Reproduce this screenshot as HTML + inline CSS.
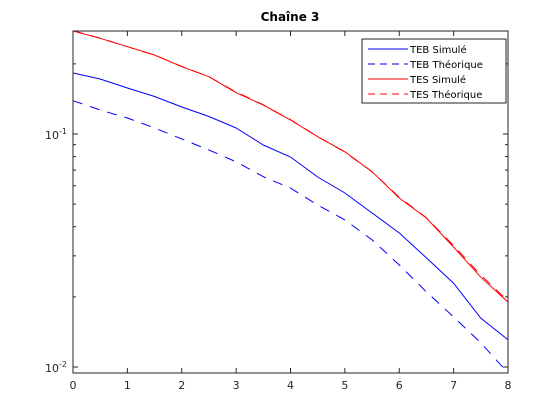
<!DOCTYPE html>
<html><head><meta charset="utf-8"><style>
body{margin:0;background:#fff}
svg{display:block;font-family:"DejaVu Sans","Liberation Sans",sans-serif}
</style></head><body>
<svg id="chart" width="560" height="420" viewBox="0 0 560 420" xmlns="http://www.w3.org/2000/svg">
<rect x="0" y="0" width="560" height="420" fill="#fff"/>
<text x="290" y="21" text-anchor="middle" font-size="12" font-weight="bold" fill="#000">Chaîne 3</text>
<g id="plot"></g>
</svg>
<script>
const xs = [0,0.5,1,1.5,2,2.5,3,3.5,4,4.5,5,5.5,6,6.5,7,7.5,8];
const tebSim = [0.1828,0.1722,0.1575,0.1449,0.1306,0.1189,0.1061,0.0897,0.0797,0.0654,0.0558,0.0458,0.0376,0.0294,0.0229,0.0162,0.0131];
const tebTheo = [0.139,0.1268,0.1171,0.1061,0.0952,0.0854,0.0760,0.0656,0.0586,0.0496,0.0428,0.0351,0.0274,0.0210,0.0164,0.0127,0.00942];
const tesSim = [0.2767,0.2575,0.2370,0.2183,0.1945,0.1762,0.1504,0.1332,0.1148,0.0974,0.0839,0.0689,0.0531,0.0436,0.0327,0.0243,0.0190];
const tesTheo = [0.2775,0.2578,0.2370,0.2180,0.1950,0.1760,0.1515,0.1335,0.1152,0.0975,0.0836,0.0688,0.0535,0.0437,0.0332,0.0248,0.0192];
const xTicks = [0,1,2,3,4,5,6,7,8];
const yMajor = [0.1,0.01];
const yMajorLabels = ["-1","-2"];
const yMinor = [0.02,0.03,0.04,0.05,0.06,0.07,0.08,0.09,0.2];
const legendLabels = ["TEB Simulé","TEB Théorique","TES Simulé","TES Théorique"];

const L=73,R=508,T=31,B=373;
const xMin=0,xMax=8;
const Y1=134,Y2=367;
function xScale(v){return L+(v-xMin)/(xMax-xMin)*(R-L);}
function yScale(v){return Y1-(Math.log10(v)+1)*(Y2-Y1);}
const NS="http://www.w3.org/2000/svg";
const g=document.getElementById('plot');
function mk(tag,attrs,parent){const e=document.createElementNS(NS,tag);for(const k in attrs)e.setAttribute(k,attrs[k]);(parent||g).appendChild(e);return e;}

const clip=mk('clipPath',{id:'clip'});
mk('rect',{x:L,y:T,width:R-L,height:B-T},clip);

const series=[
 {d:tebSim,c:'#0000ff',dash:null,n:'teb-simule-line'},
 {d:tebTheo,c:'#0000ff',dash:'10 8',n:'teb-theorique-line'},
 {d:tesSim,c:'#ff0000',dash:null,n:'tes-simule-line'},
 {d:tesTheo,c:'#ff0000',dash:'10 8',n:'tes-theorique-line'}
];
series.forEach(s=>{
  const pts=xs.map((x,i)=>xScale(x).toFixed(1)+','+yScale(s.d[i]).toFixed(1)).join(' ');
  const a={points:pts,fill:'none',stroke:s.c,'stroke-width':1,'clip-path':'url(#clip)'};
  if(s.dash)a['stroke-dasharray']=s.dash;
  const p=mk('polyline',a);
  
  
});

const box=mk('rect',{x:L,y:T,width:R-L,height:B-T,fill:'none',stroke:'#262626','stroke-width':1});



xTicks.forEach(t=>{
  const x=xScale(t);
  mk('line',{x1:x,y1:B,x2:x,y2:B-5,stroke:'#262626'});
  mk('line',{x1:x,y1:T,x2:x,y2:T+5,stroke:'#262626'});
  const tx=mk('text',{x:x,y:B+16,'text-anchor':'middle','font-size':11,fill:'#262626'});
  tx.textContent=t;
  
  
});
yMajor.forEach((v,i)=>{
  const y=yScale(v);
  mk('line',{x1:L,y1:y,x2:L+5,y2:y,stroke:'#262626'});
  mk('line',{x1:R,y1:y,x2:R-5,y2:y,stroke:'#262626'});
  const tx=mk('text',{x:67,y:y+5,'text-anchor':'end','font-size':11,fill:'#262626'});
  
  
  const b=document.createElementNS(NS,'tspan');b.textContent='10';tx.appendChild(b);
  const s=document.createElementNS(NS,'tspan');s.setAttribute('dy','-5');s.setAttribute('font-size','8');s.textContent=yMajorLabels[i];tx.appendChild(s);
});
yMinor.forEach(v=>{
  const y=yScale(v);
  if(y<T||y>B)return;
  mk('line',{x1:L,y1:y,x2:L+3,y2:y,stroke:'#262626'});
  mk('line',{x1:R,y1:y,x2:R-3,y2:y,stroke:'#262626'});
});

const lg=mk('g',{});


mk('rect',{x:362,y:39,width:144,height:64,fill:'#fff',stroke:'#262626','stroke-width':1},lg);
legendLabels.forEach((lab,i)=>{
  const y=49+i*15;
  const s=series[i];
  const e=mk('g',{},lg);
  
  
  const a={x1:368,y1:y,x2:408,y2:y,stroke:s.c,'stroke-width':1};
  if(s.dash)a['stroke-dasharray']='7 5';
  mk('line',a,e);
  const t=mk('text',{x:410,y:y+4,'font-size':10,fill:'#000'},e);
  t.textContent=lab;
});
</script>
</body></html>
